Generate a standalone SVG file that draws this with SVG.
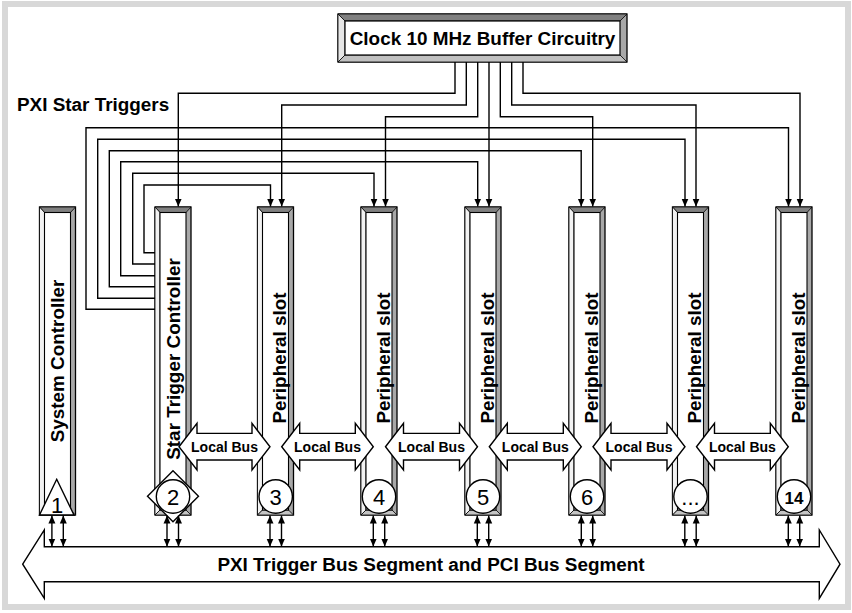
<svg xmlns="http://www.w3.org/2000/svg" width="852" height="613" viewBox="0 0 852 613">
<defs>
<marker id="ah" markerUnits="userSpaceOnUse" markerWidth="8" markerHeight="8" refX="8" refY="3.5" orient="auto-start-reverse" viewBox="0 0 8 7">
<path d="M0,0 L8,3.5 L0,7 z" fill="#000"/>
</marker>
<g id="slotShape">
<rect x="0" y="0" width="36" height="308" fill="#a8a8a8" stroke="#000" stroke-width="1.3"/>
<polygon points="0,0 36,0 31,5.5 5,5.5" fill="#808080" stroke="#000" stroke-width="0.8"/>
<polygon points="0,0 5,5.5 5,303 0,308" fill="#f2f2f2" stroke="#000" stroke-width="0.8"/>
<polygon points="0,308 5,303 31,303 36,308" fill="#c4c4c4" stroke="#000" stroke-width="0.8"/>
<rect x="5" y="5.5" width="26" height="297.5" fill="#fff" stroke="#000" stroke-width="1.1"/>
</g>
</defs>
<style>
.t{font-family:"Liberation Sans",Arial,sans-serif;font-weight:bold;fill:#000}
.big{font-size:18.9px}
.lb{font-size:14px;text-anchor:middle}
.num{font-family:"Liberation Sans",Arial,sans-serif;font-size:22px;text-anchor:middle;fill:#000}
.w{fill:none;stroke:#000;stroke-width:1.4}
.wa{fill:none;stroke:#000;stroke-width:1.4;marker-end:url(#ah)}
.da{fill:none;stroke:#000;stroke-width:1.4;marker-start:url(#ah);marker-end:url(#ah)}
.blk{fill:#fff;stroke:#000;stroke-width:1.4}
</style>
<rect x="0" y="0" width="852" height="613" fill="#fff"/>
<rect x="5" y="4" width="843" height="603" fill="none" stroke="#d8d8d8" stroke-width="6"/>

<g id="clock">
<rect x="338" y="14" width="289" height="48" fill="#a8a8a8" stroke="#000" stroke-width="1.3"/>
<polygon points="338,14 627,14 620,21 345,21" fill="#808080" stroke="#000" stroke-width="0.8"/>
<polygon points="338,14 345,21 345,55 338,62" fill="#e6e6e6" stroke="#000" stroke-width="0.8"/>
<polygon points="338,62 345,55 620,55 627,62" fill="#c0c0c0" stroke="#000" stroke-width="0.8"/>
<rect x="345" y="21" width="275" height="34" fill="#fff" stroke="#000" stroke-width="1.2"/>
<text class="t big" x="482.5" y="45" text-anchor="middle">Clock 10 MHz Buffer Circuitry</text>
</g>

<text class="t big" x="17" y="111">PXI Star Triggers</text>

<g id="slot1"><use href="#slotShape" x="39.5" y="207"/>
<text class="t big" transform="translate(63.5,361) rotate(-90)" text-anchor="middle">System Controller</text>
<polygon class="blk" points="56.7,479.3 74,515 39.5,515"/>
<text class="num" x="57" y="513">1</text></g>

<g id="slot2"><use href="#slotShape" x="155" y="207"/>
<text class="t big" transform="translate(179.5,359) rotate(-90)" text-anchor="middle">Star Trigger Controller</text>
<polygon class="blk" points="173,470.7 198.5,496.2 173,521.7 147.5,496.2"/>
<circle class="blk" cx="173" cy="496.5" r="16.7"/>
<text class="num" x="173" y="505">2</text></g>

<g id="slot3"><use href="#slotShape" x="257.5" y="207"/>
<text class="t big" transform="translate(286,358) rotate(-90)" text-anchor="middle">Peripheral slot</text>
<circle class="blk" cx="275.7" cy="496.5" r="16.7"/>
<text class="num" x="275.7" y="505">3</text></g>

<g id="slot4"><use href="#slotShape" x="361" y="207"/>
<text class="t big" transform="translate(389.5,358) rotate(-90)" text-anchor="middle">Peripheral slot</text>
<circle class="blk" cx="379" cy="496.5" r="16.7"/>
<text class="num" x="379" y="505">4</text></g>

<g id="slot5"><use href="#slotShape" x="465" y="207"/>
<text class="t big" transform="translate(493.5,358) rotate(-90)" text-anchor="middle">Peripheral slot</text>
<circle class="blk" cx="483" cy="496.5" r="16.7"/>
<text class="num" x="483" y="505">5</text></g>

<g id="slot6"><use href="#slotShape" x="569" y="207"/>
<text class="t big" transform="translate(597.5,358) rotate(-90)" text-anchor="middle">Peripheral slot</text>
<circle class="blk" cx="587" cy="496.5" r="16.7"/>
<text class="num" x="587" y="505">6</text></g>

<g id="slotN"><use href="#slotShape" x="672.5" y="207"/>
<text class="t big" transform="translate(701,358) rotate(-90)" text-anchor="middle">Peripheral slot</text>
<circle class="blk" cx="690.5" cy="496.5" r="16.7"/>
<text class="num" x="690.5" y="505">...</text></g>

<g id="slot14"><use href="#slotShape" x="776" y="207"/>
<text class="t big" transform="translate(804.5,358) rotate(-90)" text-anchor="middle">Peripheral slot</text>
<circle class="blk" cx="794" cy="496.5" r="16.7"/>
<text class="t" x="794" y="503.5" font-size="17" text-anchor="middle">14</text></g>

<g id="localbus">
<polygon class="blk" points="179,446.7 197,423.4 197,433.4 252,433.4 252,423.4 270,446.7 252,470 252,460 197,460 197,470"/>
<text class="t lb" x="224.5" y="451.5">Local Bus</text>
<polygon class="blk" points="281.7,446.7 299.7,423.4 299.7,433.4 355.3,433.4 355.3,423.4 373.3,446.7 355.3,470 355.3,460 299.7,460 299.7,470"/>
<text class="t lb" x="327.5" y="451.5">Local Bus</text>
<polygon class="blk" points="385.5,446.7 403.5,423.4 403.5,433.4 459.5,433.4 459.5,423.4 477.5,446.7 459.5,470 459.5,460 403.5,460 403.5,470"/>
<text class="t lb" x="431.5" y="451.5">Local Bus</text>
<polygon class="blk" points="489.3,446.7 507.3,423.4 507.3,433.4 563.3,433.4 563.3,423.4 581.3,446.7 563.3,470 563.3,460 507.3,460 507.3,470"/>
<text class="t lb" x="535.3" y="451.5">Local Bus</text>
<polygon class="blk" points="593,446.7 611,423.4 611,433.4 667,433.4 667,423.4 685,446.7 667,470 667,460 611,460 611,470"/>
<text class="t lb" x="639" y="451.5">Local Bus</text>
<polygon class="blk" points="696.5,446.7 714.5,423.4 714.5,433.4 770.3,433.4 770.3,423.4 788.3,446.7 770.3,470 770.3,460 714.5,460 714.5,470"/>
<text class="t lb" x="742.4" y="451.5">Local Bus</text>
</g>

<g id="connectors">
<path class="wa" d="M155,252.7 H144 V185 H270.5 V206.5"/>
<path class="wa" d="M155,264 H132.7 V173.3 H374 V206.5"/>
<path class="wa" d="M155,275.7 H120.7 V161.7 H477.7 V206.5"/>
<path class="wa" d="M155,286.7 H109.3 V150.7 H581.2 V206.5"/>
<path class="wa" d="M155,298.3 H97.7 V139.3 H685 V206.5"/>
<path class="wa" d="M155,309.3 H86 V127.7 H788.5 V206.5"/>
<path class="wa" d="M455,62 V93.3 H178.3 V206.5"/>
<path class="wa" d="M466.3,62 V105 H281.7 V206.5"/>
<path class="wa" d="M477.7,62 V116.7 H385.5 V206.5"/>
<path class="wa" d="M489,62 V206.5"/>
<path class="wa" d="M500.3,62 V116.7 H592.7 V206.5"/>
<path class="wa" d="M511.7,62 V105 H696 V206.5"/>
<path class="wa" d="M523,62 V93.3 H800 V206.5"/>
<path class="da" d="M51.9,515.5 V546.5"/><path class="da" d="M63.3,515.5 V546.5"/>
<path class="da" d="M167,515.5 V546.5"/><path class="da" d="M178.5,515.5 V546.5"/>
<path class="da" d="M270,515.5 V546.5"/><path class="da" d="M281.5,515.5 V546.5"/>
<path class="da" d="M373.3,515.5 V546.5"/><path class="da" d="M384.7,515.5 V546.5"/>
<path class="da" d="M477.3,515.5 V546.5"/><path class="da" d="M488.7,515.5 V546.5"/>
<path class="da" d="M581.3,515.5 V546.5"/><path class="da" d="M592.7,515.5 V546.5"/>
<path class="da" d="M684.8,515.5 V546.5"/><path class="da" d="M696.2,515.5 V546.5"/>
<path class="da" d="M788.3,515.5 V546.5"/><path class="da" d="M799.7,515.5 V546.5"/>
</g>

<g id="bus">
<polygon class="blk" points="22.7,564.2 44.3,530 44.3,546.7 819.3,546.7 819.3,530 840,564.2 819.3,598.4 819.3,581.7 44.3,581.7 44.3,598.4"/>
<text class="t big" x="431" y="570.5" text-anchor="middle">PXI Trigger Bus Segment and PCI Bus Segment</text>
</g>
</svg>
